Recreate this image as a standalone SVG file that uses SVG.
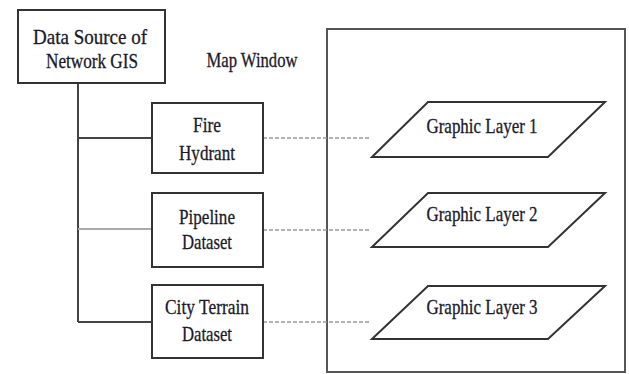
<svg xmlns="http://www.w3.org/2000/svg" width="629" height="374" viewBox="0 0 629 374">
<style>
.box{fill:#fff;stroke:#333;stroke-width:2}
.win{fill:none;stroke:#555;stroke-width:2}
.trunk{fill:none;stroke:#444;stroke-width:2}
.dash{fill:none;stroke:#999;stroke-width:1.5;stroke-dasharray:4 2}
.lay{fill:#fff;stroke:#333;stroke-width:2}
text{font-family:"Liberation Serif","Times New Roman",serif;font-size:21px;fill:#1a1a2a;stroke:#1a1a2a;stroke-width:0.3;text-anchor:middle}
</style>
<rect width="629" height="374" fill="#fff"/>
<g id="map-window">
<rect class="win" x="327" y="29" width="298" height="343"/>
<text x="252" y="67" textLength="91" lengthAdjust="spacingAndGlyphs">Map Window</text>
</g>
<g id="connectors">
<path class="trunk" d="M78 83V322M78 138H152M78 322H152"/>
<path d="M78 229H152" fill="none" stroke="#aaa" stroke-width="2"/>
<path class="dash" d="M263 138H370M263 230H370M263 322H370"/>
</g>
<g id="data-source">
<rect class="box" x="18" y="10" width="147" height="73"/>
<text x="90" y="44" textLength="114" lengthAdjust="spacingAndGlyphs">Data Source of</text>
<text x="92" y="68" textLength="92" lengthAdjust="spacingAndGlyphs">Network GIS</text>
</g>
<g id="fire-hydrant">
<rect class="box" x="152" y="103" width="111" height="70"/>
<text x="207" y="132" textLength="28" lengthAdjust="spacingAndGlyphs">Fire</text>
<text x="207" y="160" textLength="56" lengthAdjust="spacingAndGlyphs">Hydrant</text>
</g>
<g id="pipeline-dataset">
<rect class="box" x="152" y="193" width="111" height="74"/>
<text x="207" y="224" textLength="56" lengthAdjust="spacingAndGlyphs">Pipeline</text>
<text x="207" y="249" textLength="50" lengthAdjust="spacingAndGlyphs">Dataset</text>
</g>
<g id="city-terrain-dataset">
<rect class="box" x="152" y="285" width="111" height="73"/>
<text x="207" y="314" textLength="84" lengthAdjust="spacingAndGlyphs">City Terrain</text>
<text x="207" y="341" textLength="50" lengthAdjust="spacingAndGlyphs">Dataset</text>
</g>
<g id="graphic-layer-1">
<polygon class="lay" points="428,102 605,102 548,157 372,157"/>
<text x="482" y="133" textLength="111" lengthAdjust="spacingAndGlyphs">Graphic Layer 1</text>
</g>
<g id="graphic-layer-2">
<polygon class="lay" points="428,193 605,193 548,247 372,247"/>
<text x="482" y="221" textLength="111" lengthAdjust="spacingAndGlyphs">Graphic Layer 2</text>
</g>
<g id="graphic-layer-3">
<polygon class="lay" points="428,286 605,286 548,339 372,339"/>
<text x="482" y="314" textLength="111" lengthAdjust="spacingAndGlyphs">Graphic Layer 3</text>
</g>
</svg>
